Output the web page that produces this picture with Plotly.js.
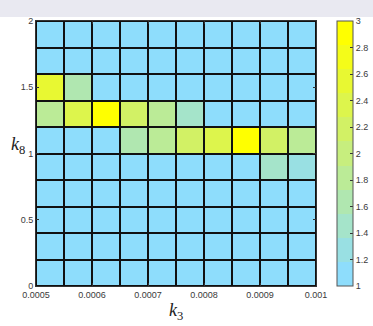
<!DOCTYPE html>
<html>
<head>
<meta charset="utf-8">
<script src="https://cdn.plot.ly/plotly-3.0.1.min.js"></script>
<style>html,body{margin:0;padding:0;background:#fff;}#chart{width:373px;height:326px;}</style>
</head>
<body>
<div id="chart"></div>
<script>
// Cell edges
var k3Edges = [0.0005, 0.00055, 0.0006, 0.00065, 0.0007, 0.00075, 0.0008, 0.00085, 0.0009, 0.00095, 0.001];
var k8Edges = [0, 0.2, 0.4, 0.6, 0.8, 1.0, 1.2, 1.4, 1.6, 1.8, 2.0];
// Values, rows from k8 = 0 upward
var row0 = [1, 1, 1, 1, 1, 1, 1, 1, 1, 1];
var row1 = [1, 1, 1, 1, 1, 1, 1, 1, 1, 1];
var row2 = [1, 1, 1, 1, 1, 1, 1, 1, 1, 1];
var row3 = [1, 1, 1, 1, 1, 1, 1, 1, 1, 1];
var row4 = [1, 1, 1, 1, 1, 1, 1, 1, 1.45, 1.3];
var row5 = [1, 1, 1, 1.6, 1.8, 2.2, 2.4, 3, 2.2, 1.8];
var row6 = [1.8, 2.4, 3, 2.2, 1.8, 1.45, 1, 1, 1, 1];
var row7 = [2.6, 1.6, 1, 1, 1, 1, 1, 1, 1, 1];
var row8 = [1, 1, 1, 1, 1, 1, 1, 1, 1, 1];
var row9 = [1, 1, 1, 1, 1, 1, 1, 1, 1, 1];
var zValues = [row0, row1, row2, row3, row4, row5, row6, row7, row8, row9];
var xTickVals = [0.0005, 0.0006, 0.0007, 0.0008, 0.0009, 0.001];
var xTickText = ['0.0005', '0.0006', '0.0007', '0.0008', '0.0009', '0.001'];
var yTickVals = [0, 0.5, 1, 1.5, 2];
var yTickText = ['0', '0.5', '1', '1.5', '2'];
var cbTickVals = [1, 1.2, 1.4, 1.6, 1.8, 2, 2.2, 2.4, 2.6, 2.8, 3];
var cbTickText = ['1', '1.2', '1.4', '1.6', '1.8', '2', '2.2', '2.4', '2.6', '2.8', '3'];

// stepped colormap of 11 colors from light blue to yellow
var nLevels = 11;
var c0 = [142, 221, 252], c1 = [255, 255, 0];
var colorscale = [];
for (var k = 0; k < nLevels; k++) {
  var t = k / (nLevels - 1);
  var c = 'rgb(' + [0,1,2].map(function(i){return Math.round(c0[i] + (c1[i]-c0[i])*t);}).join(',') + ')';
  colorscale.push([k / nLevels, c]);
  colorscale.push([(k + 1) / nLevels, c]);
}

var tickFont = {family: 'Liberation Sans, Arial, sans-serif', size: 9, color: '#3a3a3a'};

// paper area: left margin 36, right margin 0, top 21, bottom 40 -> 337 x 265 px
var PW = 337, PH = 265;

var trace = {
  type: 'heatmap',
  x: k3Edges,
  y: k8Edges,
  z: zValues,
  zmin: 1, zmax: 3,
  colorscale: colorscale,
  xgap: 2, ygap: 2,
  hoverinfo: 'skip',
  colorbar: {
    x: 301 / PW, xanchor: 'left', xpad: 0, ypad: 0,
    y: 0.5, yanchor: 'middle', len: 1, lenmode: 'fraction',
    thickness: 16, thicknessmode: 'pixels',
    outlinewidth: 1, outlinecolor: '#555',
    tickvals: cbTickVals, ticktext: cbTickText,
    ticks: 'inside', ticklen: 3, tickcolor: '#333',
    tickfont: tickFont
  }
};

var layout = {
  width: 373, height: 326,
  margin: {l: 36, r: 0, t: 21, b: 40, pad: 0},
  paper_bgcolor: '#fff',
  plot_bgcolor: '#111',
  showlegend: false,
  xaxis: {
    domain: [0, 280 / PW],
    range: [0.0005, 0.001], tickvals: xTickVals, ticktext: xTickText,
    ticks: 'inside', ticklen: 3, tickcolor: '#333', tickfont: tickFont,
    showgrid: false, zeroline: false, showline: true, linecolor: '#333', linewidth: 1, mirror: 'ticks'
  },
  yaxis: {
    range: [0, 2], tickvals: yTickVals, ticktext: yTickText,
    ticks: 'inside', ticklen: 3, tickcolor: '#333', tickfont: tickFont,
    showgrid: false, zeroline: false, showline: true, linecolor: '#333', linewidth: 1, mirror: 'ticks'
  },
  shapes: [{
    type: 'rect', xref: 'paper', yref: 'paper', layer: 'below',
    x0: -0.2, x1: 1.2, y0: 1 + 4/PH, y1: 1 + 25/PH,
    fillcolor: '#e9e9f1', line: {width: 0}
  }],
  annotations: [
    {text: '<i>k</i><sub>3</sub>', xref: 'paper', yref: 'paper', x: 140 / PW, y: -25 / PH, xanchor: 'center', yanchor: 'middle',
     showarrow: false, font: {family: 'Liberation Serif, DejaVu Serif, serif', size: 18, color: '#222'}},
    {text: '<i>k</i><sub>8</sub>', xref: 'paper', yref: 'paper', x: -9 / PW, y: 141 / PH, xanchor: 'right', yanchor: 'middle',
     showarrow: false, font: {family: 'Liberation Serif, DejaVu Serif, serif', size: 18, color: '#222'}}
  ]
};

Plotly.newPlot('chart', [trace], layout, {displayModeBar: false, staticPlot: true});
</script>
</body>
</html>
